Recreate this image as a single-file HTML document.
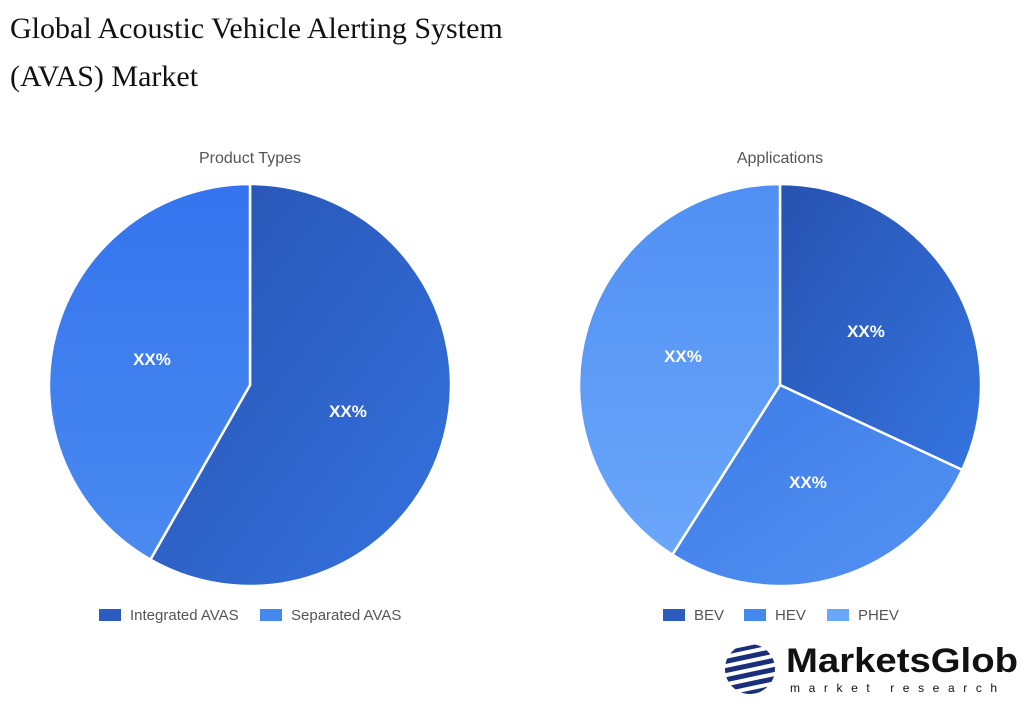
<!DOCTYPE html>
<html><head><meta charset="utf-8"><style>
body{margin:0;width:1030px;height:706px;background:#fff;overflow:hidden;position:relative;font-family:"Liberation Sans",sans-serif}
.t{position:absolute;left:10px;font-family:"Liberation Serif",serif;font-size:30px;color:#111}
</style></head><body>
<div class="t" style="top:12px">Global Acoustic Vehicle Alerting System</div>
<div class="t" style="top:60px">(AVAS) Market</div>
<svg width="1030" height="706" style="position:absolute;left:0;top:0">
<defs>
<linearGradient id="g1" x1="0" y1="0" x2="1" y2="1"><stop offset="0" stop-color="#2752b0"/><stop offset="1" stop-color="#3573e0"/></linearGradient>
<linearGradient id="g2" x1="0" y1="0" x2="0" y2="1"><stop offset="0" stop-color="#3474ee"/><stop offset="1" stop-color="#4a8af0"/></linearGradient>
<linearGradient id="g3" x1="0" y1="0" x2="1" y2="1"><stop offset="0" stop-color="#2752b0"/><stop offset="1" stop-color="#3574e0"/></linearGradient>
<linearGradient id="g4" x1="0" y1="0" x2="1" y2="1"><stop offset="0" stop-color="#3d7be8"/><stop offset="1" stop-color="#5493f2"/></linearGradient>
<linearGradient id="g5" x1="0" y1="0" x2="0" y2="1"><stop offset="0" stop-color="#5090f4"/><stop offset="1" stop-color="#6aa6f9"/></linearGradient>
</defs>
<text x="250" y="163" text-anchor="middle" font-size="16" fill="#555">Product Types</text>
<text x="780" y="163" text-anchor="middle" font-size="16" fill="#555">Applications</text>
<g stroke="#fff" stroke-width="2.5" stroke-linejoin="round">
<path d="M250 385 L250 184 A201 201 0 1 1 150.4 559.6 Z" fill="url(#g1)"/>
<path d="M250 385 L150.4 559.6 A201 201 0 0 1 250 184 Z" fill="url(#g2)"/>
<path d="M780 385 L780 184 A201 201 0 0 1 962.2 469.9 Z" fill="url(#g3)"/>
<path d="M780 385 L962.2 469.9 A201 201 0 0 1 672.3 554.7 Z" fill="url(#g4)"/>
<path d="M780 385 L672.3 554.7 A201 201 0 0 1 780 184 Z" fill="url(#g5)"/>
</g>
<g font-size="17" font-weight="bold" fill="#fff" text-anchor="middle">
<text x="152" y="365">XX%</text><text x="348" y="417">XX%</text>
<text x="866" y="337">XX%</text><text x="808" y="488">XX%</text><text x="683" y="362">XX%</text>
</g>
<g font-size="15" fill="#555">
<rect x="99" y="609" width="22" height="12" fill="#2c5cc0"/><text x="130" y="620">Integrated AVAS</text>
<rect x="260" y="609" width="22" height="12" fill="#4488f0"/><text x="291" y="620">Separated AVAS</text>
<rect x="663" y="609" width="22" height="12" fill="#2c5cc0"/><text x="694" y="620">BEV</text>
<rect x="744" y="609" width="22" height="12" fill="#4488f0"/><text x="775" y="620">HEV</text>
<rect x="827" y="609" width="22" height="12" fill="#6aa6f9"/><text x="858" y="620">PHEV</text>
</g>
<g fill="#1a2f7a">
<clipPath id="c"><circle cx="750" cy="669" r="25"/></clipPath>
<g clip-path="url(#c)">
<rect x="720" y="646" width="60" height="4" transform="rotate(-12 750 669)"/>
<rect x="720" y="654" width="60" height="5" transform="rotate(-12 750 669)"/>
<rect x="720" y="663" width="60" height="5" transform="rotate(-12 750 669)"/>
<rect x="720" y="672" width="60" height="5" transform="rotate(-12 750 669)"/>
<rect x="720" y="681" width="60" height="5" transform="rotate(-12 750 669)"/>
<rect x="720" y="690" width="60" height="4" transform="rotate(-12 750 669)"/>
</g>
</g>
<text x="786" y="672" font-size="34" font-weight="bold" fill="#111" textLength="232" lengthAdjust="spacingAndGlyphs">MarketsGlob</text>
<text x="790" y="692" font-size="12" fill="#111" letter-spacing="8.6">market research</text>
</svg>
</body></html>
